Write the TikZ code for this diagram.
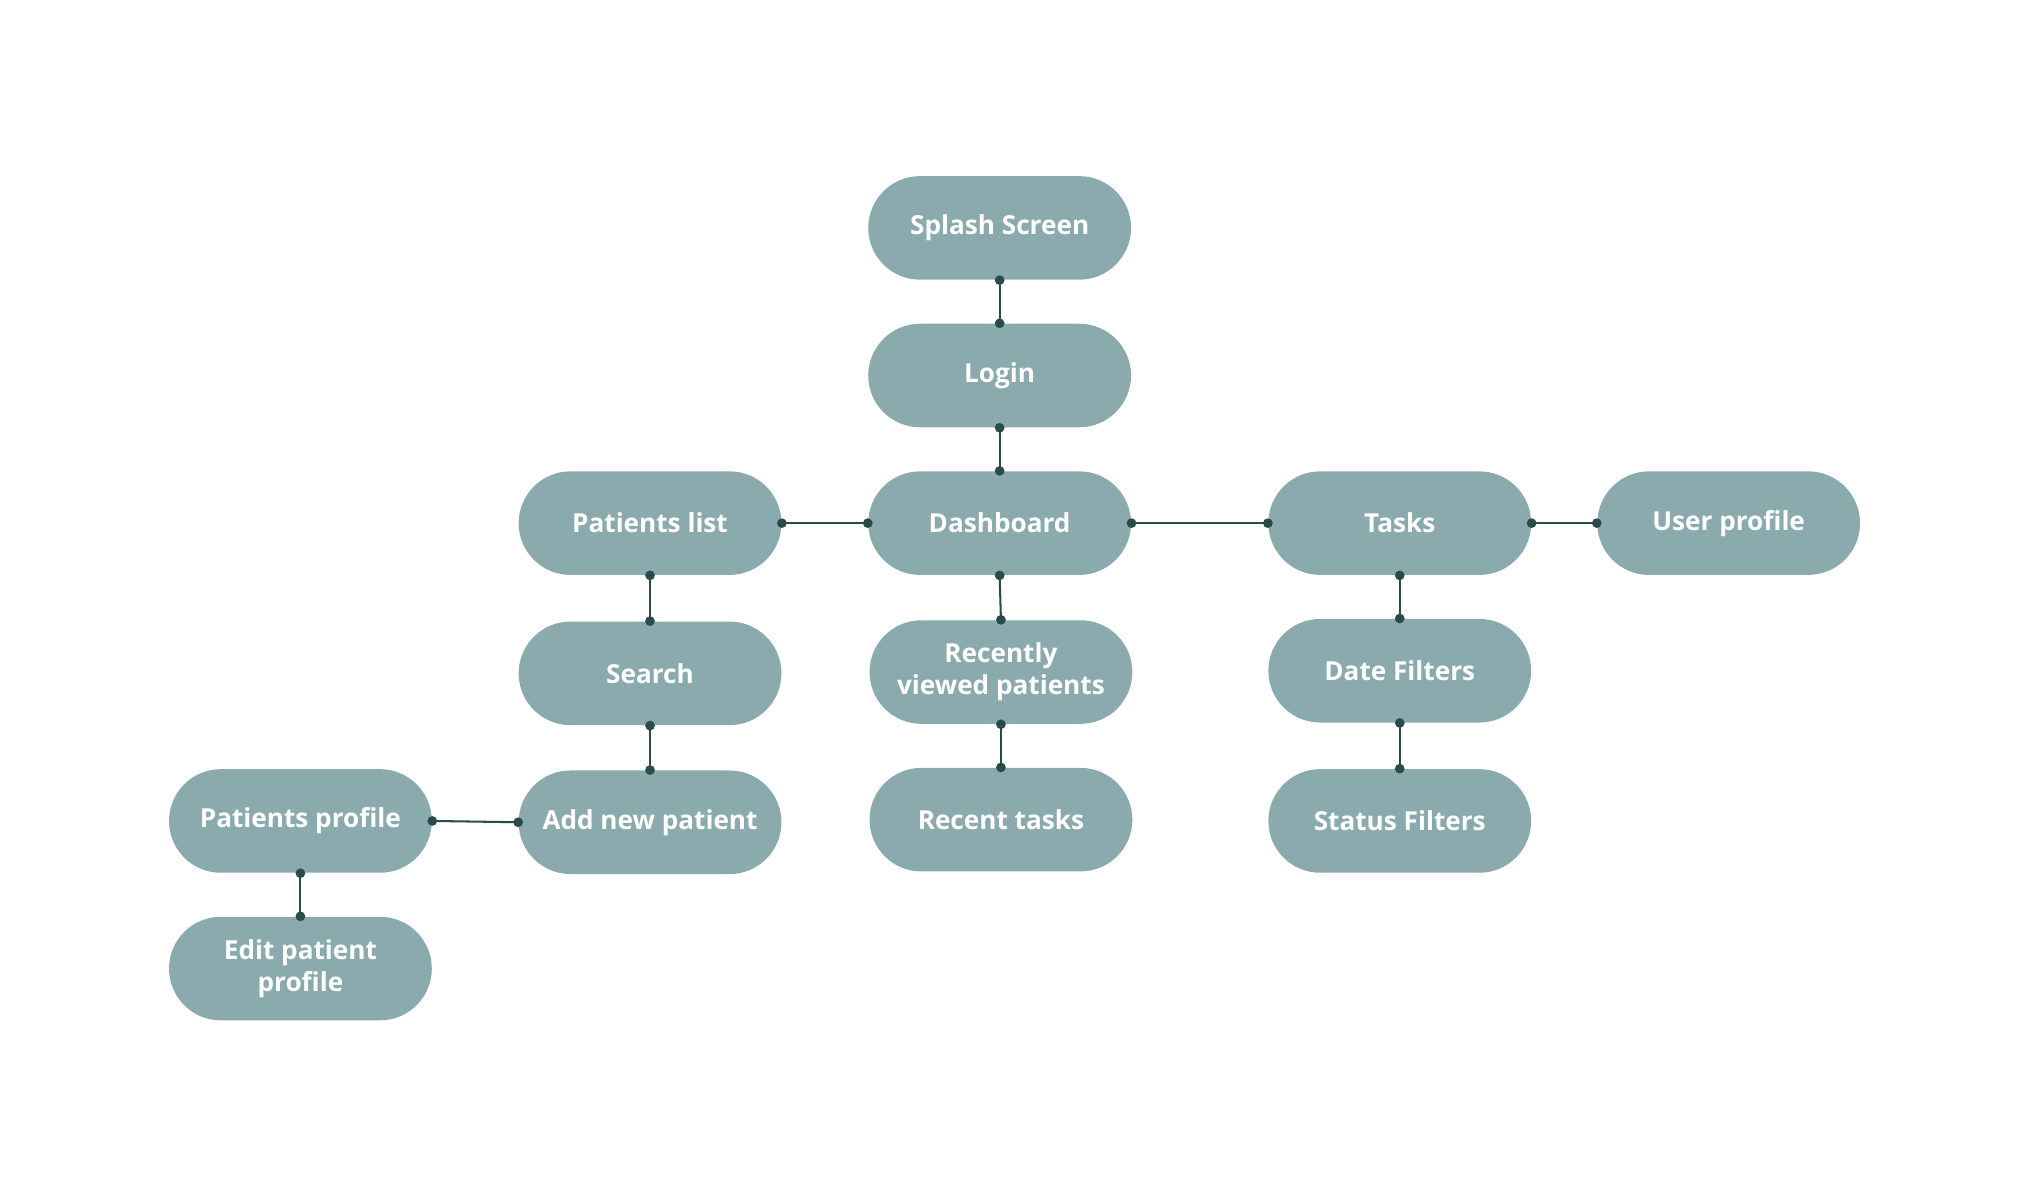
\documentclass[tikz,border=0pt]{standalone}
\usepackage{fontspec}
\setmainfont{Open Sans}
\usetikzlibrary{arrows.meta,positioning}
\definecolor{pillfill}{HTML}{8AAAAE}
\definecolor{linkcol}{HTML}{2B4A4C}
\begin{document}
\begin{tikzpicture}[x=0.02cm,y=-0.02cm]
  \tikzset{screen node/.style={rectangle, rounded corners=0.8cm, fill=pillfill,
      minimum width=4.06cm, minimum height=1.6cm, text=white, align=center,
      font=\fontsize{11.5}{14}\selectfont\bfseries}, }
  \tikzset{link/.style={draw=linkcol, line width=0.9pt,
      {Circle[length=4.2pt]}-{Circle[length=4.2pt]},
      shorten <=-2.1pt, shorten >=-2.1pt}, }
\useasboundingbox (0,0) rectangle (1560,920);
\node[screen node] (splash)   at (772,176) {Splash Screen};
\node[screen node] (login)    at (772,290) {Login};
\node[screen node] (dash)     at (772,404) {Dashboard};
\node[screen node] (plist)    at (502,404) {Patients list};
\node[screen node] (tasks)    at (1081,404) {Tasks};
\node[screen node] (user)     at (1335,404) {User profile};
\node[screen node] (search)   at (502,520) {Search};
\node[screen node] (recent)   at (773,519) {Recently\\viewed patients};
\node[screen node] (date)     at (1081,518) {Date Filters};
\node[screen node] (addnew)   at (502,635) {Add new patient};
\node[screen node] (rtasks)   at (773,633) {Recent tasks};
\node[screen node] (status)   at (1081,634) {Status Filters};
\node[screen node] (pprofile) at (232,634) {Patients profile};
\node[screen node] (edit)     at (232,748) {Edit patient\\profile};
\foreach \x/\y in {splash/login,login/dash,plist/search,search/addnew,dash/recent,recent/rtasks,tasks/date,date/status,pprofile/edit}
  \draw[link] (\x.south) -- (\y.north);
\foreach \x/\y in {plist/dash,dash/tasks,tasks/user,pprofile/addnew}
  \draw[link] (\x.east) -- (\y.west);
%%
\end{tikzpicture}
\end{document}
